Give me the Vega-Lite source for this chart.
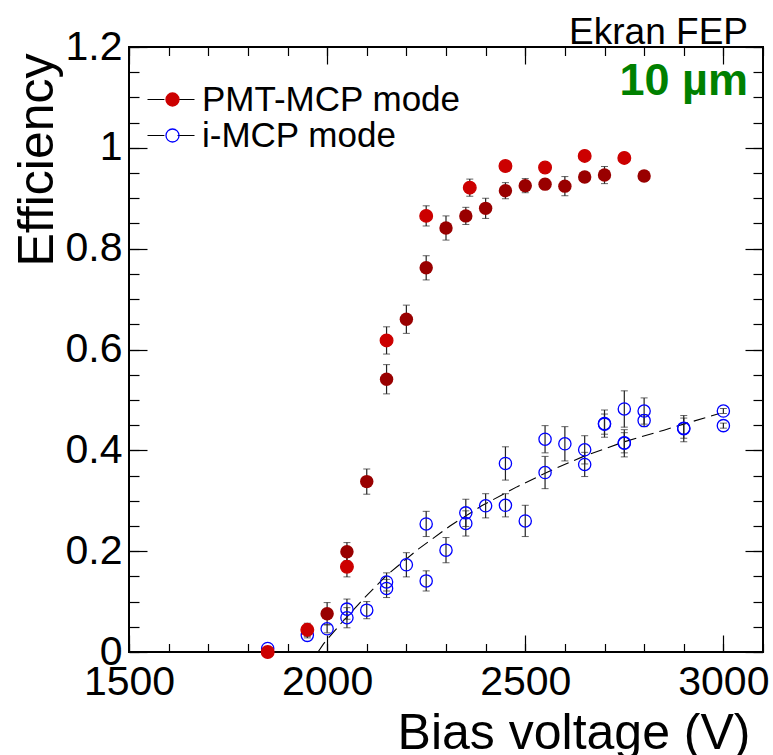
{
  "$schema": "https://vega.github.io/schema/vega-lite/v6.json",
  "width": 634,
  "height": 605,
  "autosize": "none",
  "padding": {"left": 129, "top": 47, "right": 10, "bottom": 103},
  "title": {
    "text": "Ekran FEP",
    "subtitle": "10 µm",
    "anchor": "end",
    "frame": "group",
    "dx": -15,
    "offset": -79,
    "fontSize": 37,
    "font": "Liberation Sans",
    "fontWeight": "normal",
    "color": "black",
    "subtitleFontSize": 45,
    "subtitleFont": "Liberation Sans",
    "subtitleFontWeight": "bold",
    "subtitleColor": "#008000",
    "subtitlePadding": 7
  },
  "datasets": {
    "pmt": [
      {"mode": "PMT-MCP mode", "run": "A", "V": 1850, "eff": 0.000, "err": 0.005},
      {"mode": "PMT-MCP mode", "run": "A", "V": 1950, "eff": 0.044, "err": 0.013},
      {"mode": "PMT-MCP mode", "run": "A", "V": 2050, "eff": 0.169, "err": 0.020},
      {"mode": "PMT-MCP mode", "run": "A", "V": 2150, "eff": 0.618, "err": 0.027},
      {"mode": "PMT-MCP mode", "run": "A", "V": 2250, "eff": 0.865, "err": 0.020},
      {"mode": "PMT-MCP mode", "run": "A", "V": 2360, "eff": 0.921, "err": 0.017},
      {"mode": "PMT-MCP mode", "run": "A", "V": 2450, "eff": 0.964, "err": 0.010},
      {"mode": "PMT-MCP mode", "run": "A", "V": 2550, "eff": 0.961, "err": 0.010},
      {"mode": "PMT-MCP mode", "run": "A", "V": 2650, "eff": 0.984, "err": 0.010},
      {"mode": "PMT-MCP mode", "run": "A", "V": 2750, "eff": 0.980, "err": 0.010},
      {"mode": "PMT-MCP mode", "run": "B", "V": 2000, "eff": 0.076, "err": 0.022},
      {"mode": "PMT-MCP mode", "run": "B", "V": 2050, "eff": 0.199, "err": 0.018},
      {"mode": "PMT-MCP mode", "run": "B", "V": 2100, "eff": 0.338, "err": 0.025},
      {"mode": "PMT-MCP mode", "run": "B", "V": 2150, "eff": 0.541, "err": 0.029},
      {"mode": "PMT-MCP mode", "run": "B", "V": 2200, "eff": 0.660, "err": 0.028},
      {"mode": "PMT-MCP mode", "run": "B", "V": 2250, "eff": 0.762, "err": 0.024},
      {"mode": "PMT-MCP mode", "run": "B", "V": 2300, "eff": 0.841, "err": 0.024},
      {"mode": "PMT-MCP mode", "run": "B", "V": 2350, "eff": 0.865, "err": 0.017},
      {"mode": "PMT-MCP mode", "run": "B", "V": 2400, "eff": 0.880, "err": 0.020},
      {"mode": "PMT-MCP mode", "run": "B", "V": 2450, "eff": 0.915, "err": 0.016},
      {"mode": "PMT-MCP mode", "run": "B", "V": 2500, "eff": 0.925, "err": 0.014},
      {"mode": "PMT-MCP mode", "run": "B", "V": 2550, "eff": 0.928, "err": 0.010},
      {"mode": "PMT-MCP mode", "run": "B", "V": 2600, "eff": 0.924, "err": 0.019},
      {"mode": "PMT-MCP mode", "run": "B", "V": 2650, "eff": 0.942, "err": 0.010},
      {"mode": "PMT-MCP mode", "run": "B", "V": 2700, "eff": 0.946, "err": 0.017},
      {"mode": "PMT-MCP mode", "run": "B", "V": 2800, "eff": 0.944, "err": 0.010}
    ],
    "imcp": [
      {"mode": "i-MCP mode", "V": 1850, "eff": 0.007, "err": 0.004},
      {"mode": "i-MCP mode", "V": 1950, "eff": 0.033, "err": 0.005},
      {"mode": "i-MCP mode", "V": 2000, "eff": 0.046, "err": 0.008},
      {"mode": "i-MCP mode", "V": 2050, "eff": 0.085, "err": 0.020},
      {"mode": "i-MCP mode", "V": 2050, "eff": 0.068, "err": 0.020},
      {"mode": "i-MCP mode", "V": 2100, "eff": 0.083, "err": 0.017},
      {"mode": "i-MCP mode", "V": 2150, "eff": 0.139, "err": 0.018},
      {"mode": "i-MCP mode", "V": 2150, "eff": 0.126, "err": 0.018},
      {"mode": "i-MCP mode", "V": 2200, "eff": 0.173, "err": 0.024},
      {"mode": "i-MCP mode", "V": 2250, "eff": 0.254, "err": 0.025},
      {"mode": "i-MCP mode", "V": 2250, "eff": 0.141, "err": 0.020},
      {"mode": "i-MCP mode", "V": 2300, "eff": 0.202, "err": 0.025},
      {"mode": "i-MCP mode", "V": 2350, "eff": 0.276, "err": 0.027},
      {"mode": "i-MCP mode", "V": 2350, "eff": 0.255, "err": 0.025},
      {"mode": "i-MCP mode", "V": 2400, "eff": 0.290, "err": 0.024},
      {"mode": "i-MCP mode", "V": 2450, "eff": 0.374, "err": 0.033},
      {"mode": "i-MCP mode", "V": 2450, "eff": 0.291, "err": 0.023},
      {"mode": "i-MCP mode", "V": 2500, "eff": 0.260, "err": 0.031},
      {"mode": "i-MCP mode", "V": 2550, "eff": 0.422, "err": 0.027},
      {"mode": "i-MCP mode", "V": 2550, "eff": 0.356, "err": 0.032},
      {"mode": "i-MCP mode", "V": 2600, "eff": 0.413, "err": 0.034},
      {"mode": "i-MCP mode", "V": 2650, "eff": 0.401, "err": 0.028},
      {"mode": "i-MCP mode", "V": 2650, "eff": 0.372, "err": 0.024},
      {"mode": "i-MCP mode", "V": 2700, "eff": 0.453, "err": 0.027},
      {"mode": "i-MCP mode", "V": 2700, "eff": 0.452, "err": 0.020},
      {"mode": "i-MCP mode", "V": 2750, "eff": 0.482, "err": 0.036},
      {"mode": "i-MCP mode", "V": 2750, "eff": 0.414, "err": 0.027},
      {"mode": "i-MCP mode", "V": 2750, "eff": 0.415, "err": 0.020},
      {"mode": "i-MCP mode", "V": 2800, "eff": 0.478, "err": 0.026},
      {"mode": "i-MCP mode", "V": 2800, "eff": 0.459, "err": 0.012},
      {"mode": "i-MCP mode", "V": 2900, "eff": 0.443, "err": 0.026},
      {"mode": "i-MCP mode", "V": 2900, "eff": 0.444, "err": 0.020},
      {"mode": "i-MCP mode", "V": 3000, "eff": 0.478, "err": 0.005},
      {"mode": "i-MCP mode", "V": 3000, "eff": 0.449, "err": 0.005}
    ],
    "fit": [
      {"V": 1977, "eff": 0.000},
      {"V": 1990, "eff": 0.015},
      {"V": 2000, "eff": 0.025},
      {"V": 2020, "eff": 0.043},
      {"V": 2040, "eff": 0.061},
      {"V": 2060, "eff": 0.078},
      {"V": 2090, "eff": 0.104},
      {"V": 2150, "eff": 0.152},
      {"V": 2230, "eff": 0.204},
      {"V": 2310, "eff": 0.250},
      {"V": 2390, "eff": 0.290},
      {"V": 2480, "eff": 0.328},
      {"V": 2570, "eff": 0.362},
      {"V": 2650, "eff": 0.389},
      {"V": 2750, "eff": 0.417},
      {"V": 2850, "eff": 0.440},
      {"V": 2900, "eff": 0.452},
      {"V": 2990, "eff": 0.473}
    ]
  },
  "resolve": {"axis": {"x": "independent", "y": "independent"}},
  "layer": [
    {
      "data": {"name": "fit"},
      "mark": {"type": "line", "color": "black", "strokeWidth": 1.1, "strokeDash": [12, 6]},
      "encoding": {
        "x": {"field": "V", "type": "quantitative",
          "scale": {"domain": [1500, 3100], "nice": false, "zero": false},
          "axis": {"orient": "bottom", "values": [1500, 2000, 2500, 3000], "format": "d", "ticks": false,
            "labelFontSize": 41, "labelPadding": 10, "labelFlush": false, "labelOverlap": false,
            "title": "Bias voltage (V)", "titleFontSize": 50, "titleX": 621, "titleY": 96,
            "titleAlign": "right", "titleBaseline": "alphabetic", "titleAnchor": null}},
        "y": {"field": "eff", "type": "quantitative",
          "scale": {"domain": [0, 1.2], "nice": false, "zero": false},
          "axis": {"orient": "left", "values": [0, 0.2, 0.4, 0.6, 0.8, 1, 1.2], "format": "~g", "ticks": false,
            "labelFontSize": 41, "labelPadding": 7, "labelFlush": false, "labelOverlap": false,
            "title": "Efficiency", "titleFontSize": 50, "titleAngle": -90, "titleX": -77, "titleY": 6,
            "titleAlign": "right", "titleBaseline": "alphabetic", "titleAnchor": null}}
      }
    },
    {
      "data": {"name": "imcp"},
      "mark": {"type": "errorbar", "ticks": {"size": 7, "color": "#222222"}, "rule": {"color": "#222222", "strokeWidth": 1.2}},
      "encoding": {
        "x": {"field": "V", "type": "quantitative",
          "scale": {"domain": [1500, 3100], "nice": false, "zero": false},
          "axis": {"orient": "bottom", "values": [1500, 2000, 2500, 3000], "labels": false, "tickSize": -17, "title": null}},
        "y": {"field": "eff", "type": "quantitative",
          "scale": {"domain": [0, 1.2], "nice": false, "zero": false},
          "axis": {"orient": "left", "values": [0, 0.2, 0.4, 0.6, 0.8, 1, 1.2], "labels": false, "tickSize": -18, "title": null}},
        "yError": {"field": "err"}
      }
    },
    {
      "data": {"name": "pmt"},
      "mark": {"type": "errorbar", "ticks": {"size": 7, "color": "#222222"}, "rule": {"color": "#222222", "strokeWidth": 1.2}},
      "encoding": {
        "x": {"field": "V", "type": "quantitative",
          "scale": {"domain": [1500, 3100], "nice": false, "zero": false},
          "axis": {"orient": "bottom", "values": [1500, 1600, 1700, 1800, 1900, 2000, 2100, 2200, 2300, 2400, 2500, 2600, 2700, 2800, 2900, 3000, 3100], "labels": false, "tickSize": -8.5, "title": null}},
        "y": {"field": "eff", "type": "quantitative",
          "scale": {"domain": [0, 1.2], "nice": false, "zero": false},
          "axis": {"orient": "left", "values": [0, 0.05, 0.1, 0.15, 0.2, 0.25, 0.3, 0.35, 0.4, 0.45, 0.5, 0.55, 0.6, 0.65, 0.7, 0.75, 0.8, 0.85, 0.9, 0.95, 1, 1.05, 1.1, 1.15, 1.2], "labels": false, "tickSize": -10, "title": null}},
        "yError": {"field": "err"}
      }
    },
    {
      "data": {"name": "imcp"},
      "mark": {"type": "point", "shape": "circle", "filled": true, "size": 150, "strokeWidth": 1.3, "opacity": 1},
      "encoding": {
        "x": {"field": "V", "type": "quantitative",
          "scale": {"domain": [1500, 3100], "nice": false, "zero": false},
          "axis": {"orient": "top", "values": [1500, 2000, 2500, 3000], "labels": false, "tickSize": -17, "title": null}},
        "y": {"field": "eff", "type": "quantitative",
          "scale": {"domain": [0, 1.2], "nice": false, "zero": false},
          "axis": {"orient": "right", "values": [0, 0.2, 0.4, 0.6, 0.8, 1, 1.2], "labels": false, "tickSize": -18, "title": null}},
        "fill": {"field": "mode", "type": "nominal",
          "scale": {"range": ["#cc0000", "transparent"]},
          "legend": {"orient": "none", "legendX": 26, "legendY": 36, "title": null, "padding": 0,
            "symbolType": "circle", "symbolSize": 170, "symbolStrokeWidth": 1.3, "symbolOpacity": 1,
            "labelFontSize": 35, "labelFont": "Liberation Sans", "labelColor": "black", "labelLimit": 0,
            "labelOffset": 12, "rowPadding": 0, "clipHeight": 33, "zindex": 2}},
        "stroke": {"field": "mode", "type": "nominal",
          "scale": {"range": ["#cc0000", "#0000ff"]},
          "legend": {"orient": "none", "legendX": 26, "legendY": 36, "title": null, "padding": 0,
            "symbolType": "circle", "symbolSize": 170, "symbolStrokeWidth": 1.3, "symbolOpacity": 1,
            "labelFontSize": 35, "labelFont": "Liberation Sans", "labelColor": "black", "labelLimit": 0,
            "labelOffset": 12, "rowPadding": 0, "clipHeight": 33, "zindex": 2}},
        "opacity": {"field": "mode", "type": "ordinal",
          "scale": {"type": "ordinal", "domain": ["PMT-MCP mode", "i-MCP mode"], "range": [1, 1]},
          "legend": {"orient": "none", "legendX": 17.5, "legendY": 36, "title": null, "padding": 0,
            "symbolType": "M-1,0H-0.28M0.28,0H1", "symbolSize": 2209, "symbolStrokeColor": "black",
            "symbolFillColor": "transparent", "symbolStrokeWidth": 1.2, "symbolOpacity": 1,
            "labelFontSize": 35, "labelFont": "Liberation Sans", "labelLimit": 0,
            "labelOpacity": 0, "labelOffset": 12, "rowPadding": 0, "clipHeight": 33, "zindex": 1}}
      }
    },
    {
      "data": {"name": "pmt"},
      "transform": [{"filter": "datum.run === 'A'"}],
      "mark": {"type": "point", "shape": "circle", "filled": true, "size": 160, "strokeWidth": 1.3, "opacity": 1},
      "encoding": {
        "x": {"field": "V", "type": "quantitative",
          "scale": {"domain": [1500, 3100], "nice": false, "zero": false},
          "axis": {"orient": "top", "values": [1500, 1600, 1700, 1800, 1900, 2000, 2100, 2200, 2300, 2400, 2500, 2600, 2700, 2800, 2900, 3000, 3100], "labels": false, "tickSize": -8.5, "title": null}},
        "y": {"field": "eff", "type": "quantitative",
          "scale": {"domain": [0, 1.2], "nice": false, "zero": false},
          "axis": {"orient": "right", "values": [0, 0.05, 0.1, 0.15, 0.2, 0.25, 0.3, 0.35, 0.4, 0.45, 0.5, 0.55, 0.6, 0.65, 0.7, 0.75, 0.8, 0.85, 0.9, 0.95, 1, 1.05, 1.1, 1.15, 1.2], "labels": false, "tickSize": -10, "title": null}},
        "fill": {"field": "mode", "type": "nominal",
          "legend": {"orient": "none", "legendX": 26, "legendY": 36, "title": null, "padding": 0,
            "symbolType": "circle", "symbolSize": 170, "symbolStrokeWidth": 1.3, "symbolOpacity": 1,
            "labelFontSize": 35, "labelFont": "Liberation Sans", "labelColor": "black", "labelLimit": 0,
            "labelOffset": 12, "rowPadding": 0, "clipHeight": 33, "zindex": 2}},
        "stroke": {"field": "mode", "type": "nominal",
          "legend": {"orient": "none", "legendX": 26, "legendY": 36, "title": null, "padding": 0,
            "symbolType": "circle", "symbolSize": 170, "symbolStrokeWidth": 1.3, "symbolOpacity": 1,
            "labelFontSize": 35, "labelFont": "Liberation Sans", "labelColor": "black", "labelLimit": 0,
            "labelOffset": 12, "rowPadding": 0, "clipHeight": 33, "zindex": 2}}
      }
    },
    {
      "data": {"name": "pmt"},
      "transform": [{"filter": "datum.run === 'B'"}],
      "mark": {"type": "point", "shape": "circle", "filled": true, "size": 180, "opacity": 1, "color": "#990000"},
      "encoding": {
        "x": {"field": "V", "type": "quantitative",
          "scale": {"domain": [1500, 3100], "nice": false, "zero": false}, "axis": null},
        "y": {"field": "eff", "type": "quantitative",
          "scale": {"domain": [0, 1.2], "nice": false, "zero": false}, "axis": null}
      }
    }
  ],
  "config": {
    "font": "Liberation Sans",
    "view": {"stroke": "black", "strokeWidth": 2},
    "axis": {"grid": false, "domain": false, "tickColor": "black", "tickWidth": 1.2,
      "labelFont": "Liberation Sans", "titleFont": "Liberation Sans", "labelColor": "black",
      "titleColor": "black", "titleFontWeight": "normal"}
  }
}
